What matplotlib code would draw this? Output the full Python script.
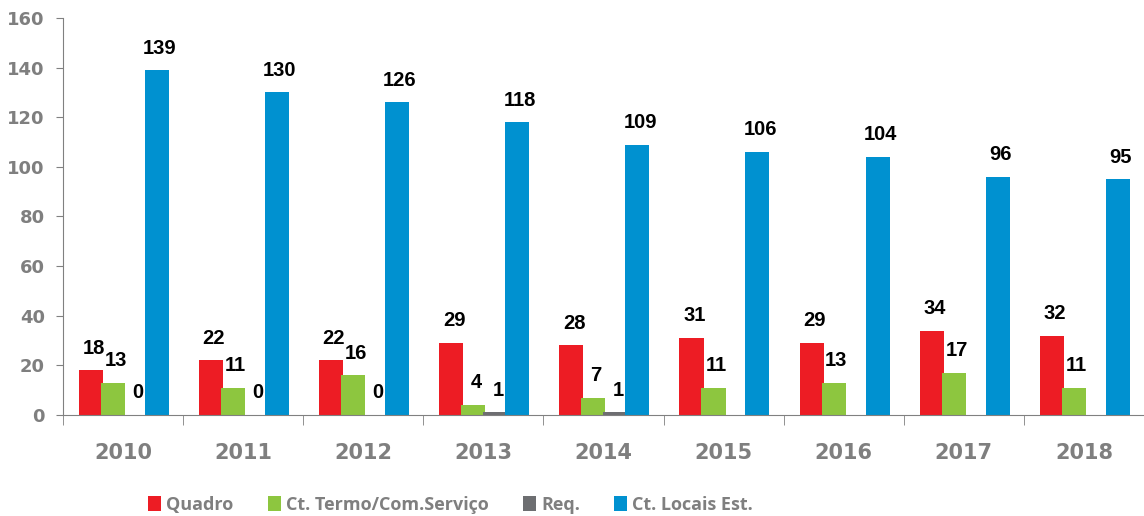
import matplotlib.pyplot as plt
import numpy as np

# Data
years = ['2010', '2011', '2012', '2013', '2014', '2015', '2016', '2017', '2018']
quadro = [18, 22, 22, 29, 28, 31, 29, 34, 32]
termo = [13, 11, 16, 4, 7, 11, 13, 17, 11]
req = [0, 0, 0, 1, 1, np.nan, np.nan, np.nan, np.nan]
locais = [139, 130, 126, 118, 109, 106, 104, 96, 95]

series = [('Quadro', quadro, '#ED1C24'),
          ('Ct. Termo/Com.Serviço', termo, '#8DC63F'),
          ('Req.', req, '#6D6E71'),
          ('Ct. Locais Est.', locais, '#0091D0')]

fig = plt.figure(figsize=(11.44, 5.16), dpi=100)
ax = fig.add_axes([0.055, 0.196, 0.945, 0.769])

x = np.arange(len(years))
width = 0.2
step = 0.183
for i, (name, vals, col) in enumerate(series):
    pos = x - 0.5 + 0.233 + i * step
    vals = np.array(vals, dtype=float)
    ax.bar(pos, vals, width, color=col, label=name, zorder=2)
    for p, v in zip(pos, vals):
        if np.isnan(v):
            continue
        ax.annotate('%d' % v, (p, v), xytext=(2, 9), textcoords='offset points',
                    ha='center', va='bottom', fontsize=14.5, fontweight='bold',
                    color='black', family='Liberation Sans')

ax.set_xlim(-0.5, len(years) - 0.5)
ax.set_ylim(0, 160)
ax.set_yticks(range(0, 161, 20))
ax.set_xticks(x)
ax.set_xticklabels(years)
ax.set_xticks(np.arange(-0.5, len(years), 1), minor=True)
ax.tick_params(axis='x', which='major', length=0, pad=20, labelsize=15,
               labelcolor='#7F7F7F')
ax.tick_params(axis='x', which='minor', length=7, color='#808080', direction='out')
ax.tick_params(axis='y', length=5, color='#808080', labelsize=13,
               labelcolor='#7F7F7F', pad=8)
for lab in ax.get_xticklabels() + ax.get_yticklabels():
    lab.set_fontweight('bold')

for s in ['top', 'right']:
    ax.spines[s].set_visible(False)
for s in ['left', 'bottom']:
    ax.spines[s].set_color('#808080')

leg = fig.legend(loc='lower center', bbox_to_anchor=(0.394, -0.028), ncol=4,
                 frameon=False, handlelength=0.7, handleheight=0.9,
                 handletextpad=0.3, columnspacing=1.9,
                 prop={'size': 13, 'weight': 'bold', 'family': 'Open Sans'})
for t in leg.get_texts():
    t.set_color('#7F7F7F')

fig.savefig('out.png', dpi=100)
